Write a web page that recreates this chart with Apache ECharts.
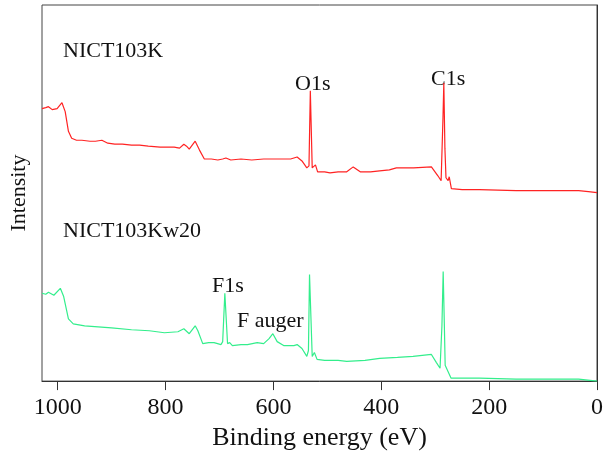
<!DOCTYPE html>
<html>
<head>
<meta charset="utf-8">
<script src="https://cdn.jsdelivr.net/npm/echarts@6/dist/echarts.min.js"></script>
<style>html,body{margin:0;padding:0;background:#fff}#c{width:606px;height:456px}</style>
</head>
<body>
<div id="c"></div>
<script>
// Binding energy (eV) and intensity (arb. units)
var redEnergy = [1029,1022,1017,1010,1001,992,986,980,974,965,955,940,930,918,907,894,880,863,848,832,810,795,784,774,766,761,756,745,737,728,715,703,694,688,679,660,640,618,595,568,556,547,538,534,531.5,528,525,522,518,505,495,480,464,452,439,420,403,385,372,340,307,295,289,285.6,284,282,280,276,274,270,250,218,150,80,34,16,0];
var redIntensity = [276,277,278,275,276,282,273,253,246,244,244,243,243,244,241,240,240,239,239,238,237,237,237,236,240,238,235,243,234,225,225,224,225,226,224,225,224,225,225,225,227,223,216,218,294,216,216,219,212,212,211,212,212,217,212,212,213,214,216,216,217,208,203,266,302,236,206,203,207,195,194,194,193,193,193,192,191];
var greenEnergy = [1029,1022,1017,1007,995,989,980,971,950,925,900,863,830,802,777,766,756,745,740,731,720,710,697,694,690,685,681,676,660,648,630,618,608,601,593,581,562,556,547,538,535,533,528,524,519,505,495,480,464,430,403,370,341,307,298,291,287.5,285.2,283,281.5,279,276.7,270.5,250,218,150,80,34,0];
var greenIntensity = [89,88,90,87,94,86,63,58,56,55,54,52,51,49,50,53,48,56,51,38,39,39,37,40,89,38,39,36,37,37,39,38,43,48,40,36,36,37,33,25,31,108,25,29,22,21,21,21,20,21,23,24,25,27,19,13,56,111,56,16,13,14,3,3,3,2,2,2,0];
var seriesNames = ['NICT103K','NICT103Kw20'];
var xTicks = [0,200,400,600,800,1000];
var peakLabels = ['O1s','C1s','F1s','F auger'];

function pairs(xs, ys){ return xs.map(function(x,i){ return [x, ys[i]]; }); }

var FONT = 'Liberation Serif';
var chart = echarts.init(document.getElementById('c'), null, {renderer:'canvas'});
function txt(s, left, top){
  return {type:'text', left:left, top:top, style:{text:s, font:'22px "Liberation Serif"', fill:'#111'}};
}
chart.setOption({
  animation:false,
  backgroundColor:'#fff',
  grid:{left:40, right:8, top:5, bottom:70, show:true, borderColor:'#444', borderWidth:1, backgroundColor:'transparent'},
  xAxis:{
    type:'value', min:0, max:1029, interval:200, inverse:true,
    name:'Binding energy (eV)', nameLocation:'middle', nameGap:42,
    nameTextStyle:{fontFamily:FONT, fontSize:26, color:'#111'},
    axisLine:{show:true, lineStyle:{color:'#333', width:1}},
    axisTick:{show:true, length:9, inside:false, lineStyle:{color:'#333'}},
    axisLabel:{fontFamily:FONT, fontSize:24, color:'#111', margin:15, showMaxLabel:false,
      formatter:function(v){ return xTicks.indexOf(v) >= 0 ? String(v) : ''; }},
    splitLine:{show:false}
  },
  yAxis:{
    type:'value', min:0, max:381,
    name:'Intensity', nameLocation:'middle', nameGap:12,
    nameTextStyle:{fontFamily:FONT, fontSize:22, color:'#111'},
    axisLine:{show:true, lineStyle:{color:'#333'}},
    axisTick:{show:false}, axisLabel:{show:false}, splitLine:{show:false}
  },
  series:[
    {name:seriesNames[0], type:'line', data:pairs(redEnergy, redIntensity), showSymbol:false, symbol:'none',
      lineStyle:{color:'#ff2323', width:1.2}},
    {name:seriesNames[1], type:'line', data:pairs(greenEnergy, greenIntensity), showSymbol:false, symbol:'none',
      lineStyle:{color:'#33ee8c', width:1.2}}
  ],
  graphic:[
    txt(seriesNames[0], 63, 40),
    txt(seriesNames[1], 63, 220),
    txt(peakLabels[0], 295, 73),
    txt(peakLabels[1], 431, 68),
    txt(peakLabels[2], 212, 275),
    txt(peakLabels[3], 237, 310)
  ]
});
</script>
</body>
</html>
